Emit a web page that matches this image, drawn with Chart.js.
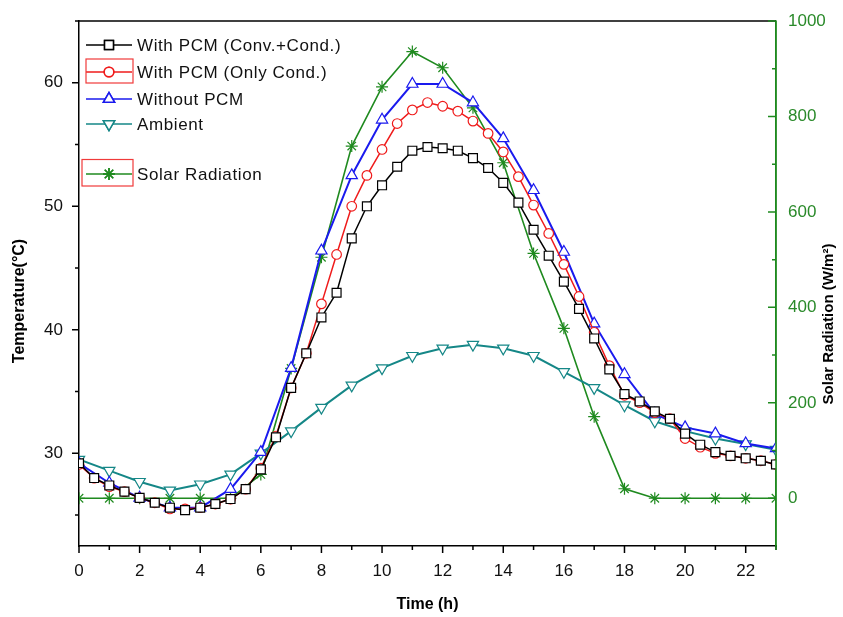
<!DOCTYPE html>
<html>
<head>
<meta charset="utf-8">
<script src="https://cdn.jsdelivr.net/npm/chart.js@4"></script>
<style>
  html, body { margin: 0; padding: 0; background: #fff; }
  #wrap { width: 843px; height: 617px; }
</style>
</head>
<body>
<div id="wrap"><canvas id="c" width="843" height="617"></canvas></div>
<script>
// ---------- DATA ----------
const hoursHalf = [0,0.5,1,1.5,2,2.5,3,3.5,4,4.5,5,5.5,6,6.5,7,7.5,8,8.5,9,9.5,10,10.5,11,11.5,12,12.5,13,13.5,14,14.5,15,15.5,16,16.5,17,17.5,18,18.5,19,19.5,20,20.5,21,21.5,22,22.5,23];
const hoursFull = [0,1,2,3,4,5,6,7,8,9,10,11,12,13,14,15,16,17,18,19,20,21,22,23];

const withPcmConvCond = [29.2,28.0,27.4,26.9,26.4,26.0,25.6,25.4,25.6,25.9,26.3,27.1,28.7,31.3,35.3,38.1,41.0,43.0,47.4,50.0,51.7,53.2,54.5,54.8,54.7,54.5,53.9,53.1,51.9,50.3,48.1,46.0,43.9,41.7,39.3,36.8,34.8,34.2,33.4,32.8,31.6,30.7,30.1,29.8,29.6,29.4,29.1];
const withPcmOnlyCond = [29.1,28.0,27.3,26.9,26.4,26.0,25.5,25.5,25.6,25.9,26.3,27.1,28.8,31.4,35.3,38.1,42.1,46.1,50.0,52.5,54.6,56.7,57.8,58.4,58.1,57.7,56.9,55.9,54.4,52.4,50.1,47.8,45.3,42.7,39.8,37.1,34.7,34.1,33.3,32.8,31.2,30.5,30.0,29.8,29.6,29.4,29.1];
const withoutPcm = [29.2,27.6,26.4,25.6,25.6,27.1,30.1,36.9,46.4,52.5,57.0,59.9,59.9,58.4,55.5,51.3,46.3,40.5,36.4,33.2,32.1,31.6,30.8,30.4];
const ambient = [29.5,28.6,27.7,27.0,27.5,28.3,30.0,31.8,33.7,35.5,36.9,37.9,38.5,38.8,38.5,37.9,36.6,35.3,33.9,32.6,31.8,31.2,30.75,30.3];
const solarRadiation = [0,0,0,0,0,0,50,272,505,738,862,936,902,818,703,513,356,171,20,0,0,0,0,0];

const tempTicks = [25,30,35,40,45,50,55,60,65];
const solarTicks = [0,100,200,300,400,500,600,700,800,900,1000];
const timeTicks = [0,1,2,3,4,5,6,7,8,9,10,11,12,13,14,15,16,17,18,19,20,21,22,23];

const seriesLabels = ['With PCM (Conv.+Cond.)','With PCM (Only Cond.)','Without PCM','Ambient','Solar Radiation'];

// ---------- STYLE ----------
const C_BLACK = '#000000', C_RED = '#ef1b1b', C_BLUE = '#1a1aee', C_TEAL = '#158787', C_GREEN = '#1f8a1f';
const FONT = '"Liberation Sans", Arial, sans-serif';

const pts = (xs, ys) => xs.map((x, i) => ({x: x, y: ys[i]}));

const datasets = [
  {label: seriesLabels[0], data: pts(hoursHalf, withPcmConvCond), borderColor: C_BLACK, backgroundColor: '#fff',
   pointStyle: 'rect', pointRadius: 6.3, pointBorderWidth: 1.2, borderWidth: 1.5, yAxisID: 'y'},
  {label: seriesLabels[1], data: pts(hoursHalf, withPcmOnlyCond), borderColor: C_RED, backgroundColor: '#fff',
   pointStyle: 'circle', pointRadius: 4.8, pointBorderWidth: 1.2, borderWidth: 1.5, yAxisID: 'y'},
  {label: seriesLabels[2], data: pts(hoursFull, withoutPcm), borderColor: C_BLUE, backgroundColor: '#fff',
   pointStyle: 'triangle', pointRadius: 6.5, pointBorderWidth: 1.2, borderWidth: 2, yAxisID: 'y'},
  {label: seriesLabels[3], data: pts(hoursFull, ambient), borderColor: C_TEAL, backgroundColor: '#fff',
   pointStyle: 'triangle', pointRotation: 180, pointRadius: 6.5, pointBorderWidth: 1.2, borderWidth: 2, yAxisID: 'y'},
  {label: seriesLabels[4], data: pts(hoursFull, solarRadiation), borderColor: C_GREEN, backgroundColor: C_GREEN,
   pointStyle: 'star', pointRadius: 6, pointBorderWidth: 1.2, borderWidth: 1.6, yAxisID: 'y1'}
];

// ---------- PLUGIN: ticks, frame, titles, legend ----------
const decor = {
  id: 'decor',
  afterDraw(chart) {
    const ctx = chart.ctx, a = chart.chartArea;
    const xs = chart.scales.x, ys = chart.scales.y, y1 = chart.scales.y1;
    ctx.save();
    ctx.lineCap = 'butt';
    // top frame
    ctx.strokeStyle = '#000'; ctx.lineWidth = 1.5;
    ctx.beginPath(); ctx.moveTo(a.left, a.top); ctx.lineTo(a.right, a.top); ctx.stroke();
    // x ticks (outward)
    ctx.beginPath();
    xs.ticks.forEach(t => {
      const px = xs.getPixelForValue(t.value);
      const len = (t.value % 2 === 0) ? 7 : 4;
      ctx.moveTo(px, a.bottom); ctx.lineTo(px, a.bottom + len);
    });
    ctx.stroke();
    // left ticks (outward)
    ctx.beginPath();
    ys.ticks.forEach(t => {
      const py = ys.getPixelForValue(t.value);
      const len = (t.value % 10 === 0) ? 7 : 4;
      ctx.moveTo(a.left, py); ctx.lineTo(a.left - len, py);
    });
    ctx.stroke();
    // right ticks (inward, green)
    ctx.strokeStyle = C_GREEN;
    ctx.beginPath();
    y1.ticks.forEach(t => {
      const py = y1.getPixelForValue(t.value);
      const len = (t.value % 200 === 0) ? 8 : 4;
      ctx.moveTo(a.right, py); ctx.lineTo(a.right - len, py);
    });
    ctx.stroke();
    ctx.beginPath(); ctx.moveTo(a.right, a.top); ctx.lineTo(a.right, a.bottom + 4); ctx.stroke();

    // axis titles (rotated, reading bottom to top)
    ctx.fillStyle = '#000';
    ctx.textAlign = 'center'; ctx.textBaseline = 'middle';
    ctx.font = 'bold 16px ' + FONT;
    ctx.save(); ctx.translate(20, 301); ctx.rotate(-Math.PI / 2);
    ctx.fillText('Temperature(°C)', 0, 0); ctx.restore();
    ctx.font = 'bold 15px ' + FONT;
    ctx.save(); ctx.translate(829, 324); ctx.rotate(-Math.PI / 2);
    ctx.fillText('Solar Radiation (W/m²)', 0, 0); ctx.restore();

    // legend
    const rows = [45, 72, 99, 124, 174];
    const x0 = 86, x1 = 132, xm = 109, tx = 137;
    ctx.font = '17px ' + FONT;
    ctx.textAlign = 'left';
    try { ctx.letterSpacing = '0.6px'; } catch (e) {}
    chart.data.datasets.forEach((ds, i) => {
      const yy = rows[i];
      ctx.strokeStyle = ds.borderColor; ctx.lineWidth = 1.5;
      ctx.beginPath(); ctx.moveTo(x0, yy); ctx.lineTo(x1, yy); ctx.stroke();
      ctx.fillStyle = ds.backgroundColor;
      Chart.helpers.drawPoint(ctx, {
        pointStyle: ds.pointStyle, rotation: ds.pointRotation || 0,
        radius: ds.pointRadius, borderWidth: ds.pointBorderWidth
      }, xm, yy);
      if (ds.pointStyle !== 'star') ctx.fill();
      ctx.stroke();
      ctx.fillStyle = '#111';
      ctx.fillText(ds.label, tx, yy + 1);
    });
    // red highlight boxes in legend
    ctx.strokeStyle = '#f03a3a'; ctx.lineWidth = 1.2;
    ctx.strokeRect(86, 59, 47, 24);
    ctx.strokeRect(82, 159.5, 51, 26.5);
    ctx.restore();
  }
};

const noVPad = s => { s.paddingTop = 0; s.paddingBottom = 0; };

new Chart(document.getElementById('c'), {
  type: 'line',
  data: {datasets: datasets},
  options: {
    responsive: false,
    animation: false,
    events: [],
    layout: {padding: {top: 21, left: 0, right: 0, bottom: 0}},
    elements: {line: {tension: 0}},
    plugins: {legend: {display: false}, tooltip: {enabled: false}},
    scales: {
      x: {
        type: 'linear', min: 0, max: 23,
        afterBuildTicks: s => { s.ticks = timeTicks.map(v => ({value: v})); },
        afterFit: s => { s.height = 71; s.paddingLeft = 0; s.paddingRight = 0; },
        grid: {display: false, drawTicks: false},
        border: {display: true, color: '#000', width: 1.5},
        ticks: {padding: 15, color: '#111', font: {family: FONT, size: 17},
                autoSkip: false, maxRotation: 0,
                callback: v => (v % 2 === 0 ? String(v) : '')},
        title: {display: true, text: 'Time (h)', color: '#000',
                font: {family: FONT, size: 16, weight: 'bold'}, padding: {top: 0, bottom: 3}}
      },
      y: {
        type: 'linear', position: 'left', min: 22.5, max: 65,
        afterBuildTicks: s => { s.ticks = tempTicks.map(v => ({value: v})); },
        afterFit: s => { s.width = 79; noVPad(s); },
        grid: {display: false, drawTicks: false},
        border: {display: true, color: '#000', width: 1.5},
        ticks: {padding: 16, color: '#111', font: {family: FONT, size: 17},
                callback: v => (v % 10 === 0 ? String(v) : '')}
      },
      y1: {
        type: 'linear', position: 'right', min: -100, max: 1000,
        afterBuildTicks: s => { s.ticks = solarTicks.map(v => ({value: v})); },
        afterFit: s => { s.width = 67; noVPad(s); },
        grid: {display: false, drawTicks: false},
        border: {display: true, color: C_GREEN, width: 1.5},
        ticks: {padding: 12, color: '#2a8a2a', font: {family: FONT, size: 17},
                callback: v => (v % 200 === 0 ? String(v) : '')}
      }
    }
  },
  plugins: [decor]
});
</script>
</body>
</html>
